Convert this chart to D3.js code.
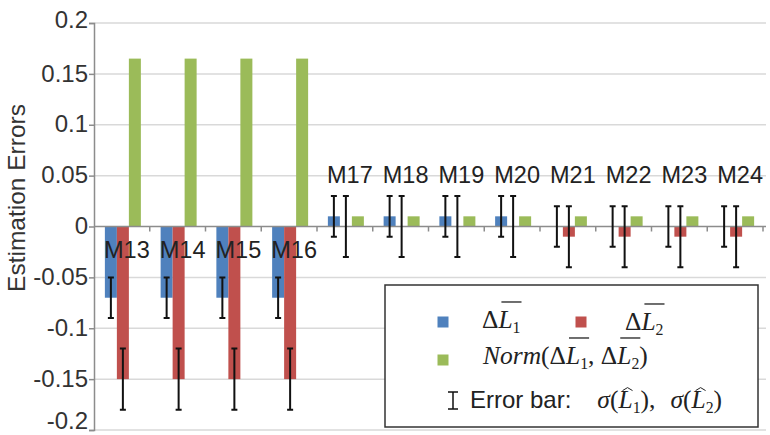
<!DOCTYPE html>
<html>
<head>
<meta charset="utf-8">
<script src="https://cdn.jsdelivr.net/npm/d3@7"></script>
<style>
  body { margin: 0; background: #fff; }
  svg { display: block; }
</style>
</head>
<body>
<div id="chart"></div>
<script>
var categories = ["M13", "M14", "M15", "M16", "M17", "M18", "M19", "M20", "M21", "M22", "M23", "M24"];
var deltaL1 = [-0.07, -0.07, -0.07, -0.07, 0.01, 0.01, 0.01, 0.01, 0, 0, 0, 0];
var deltaL2 = [-0.15, -0.15, -0.15, -0.15, 0, 0, 0, 0, -0.01, -0.01, -0.01, -0.01];
var normL = [0.165, 0.165, 0.165, 0.165, 0.01, 0.01, 0.01, 0.01, 0.01, 0.01, 0.01, 0.01];
var sigmaL1 = [0.02, 0.02, 0.02, 0.02, 0.02, 0.02, 0.02, 0.02, 0.02, 0.02, 0.02, 0.02];
var sigmaL2 = [0.03, 0.03, 0.03, 0.03, 0.03, 0.03, 0.03, 0.03, 0.03, 0.03, 0.03, 0.03];
var yTicks = [-0.2, -0.15, -0.1, -0.05, 0, 0.05, 0.1, 0.15, 0.2];
var seriesNames = ["dL1", "dL2", "norm"];

var COLORS = { dL1: "#4F81BD", dL2: "#C0504D", norm: "#9BBB59" };
var SANS = "'Liberation Sans', Arial, sans-serif";
var SERIF = "'Liberation Serif', 'Times New Roman', serif";

var width = 770,
    height = 435,
    plot = { left: 94, right: 763, top: 23, bottom: 430 };

var svg = d3.select("#chart")
    .append("svg")
        .attr("width", width)
        .attr("height", height);

/* Scales */
var x = d3.scaleBand()
    .domain(categories)
    .range([plot.left, plot.right]);
var groupW = 36;
var x1 = d3.scaleBand()
    .domain(seriesNames)
    .range([(x.bandwidth() - groupW) / 2 + 1, (x.bandwidth() + groupW) / 2 + 1]);
var y = d3.scaleLinear()
    .domain([-0.2, 0.2])
    .range([plot.bottom, plot.top]);

/* Grid lines */
svg.append("g")
    .selectAll("line")
    .data(yTicks.filter(function(d){ return d !== 0; }))
    .enter()
    .append("line")
        .attr("x1", plot.left)
        .attr("x2", 766)
        .attr("y1", function(d){ return y(d); })
        .attr("y2", function(d){ return y(d); })
        .attr("stroke", "#d9d9d9")
        .attr("stroke-width", 1.5);

/* Y axis */
var yAxis = d3.axisLeft(y)
    .tickValues(yTicks)
    .tickSize(5)
    .tickPadding(1)
    .tickFormat(function(d){ return d === 0 ? "0" : String(+d.toFixed(2)); });
var yAxisG = svg.append("g")
    .attr("transform", "translate(" + plot.left + ",0)")
    .call(yAxis);
yAxisG.select(".domain").attr("stroke", "#8c8c8c").attr("stroke-width", 1.5);
yAxisG.selectAll(".tick line").attr("stroke", "#8c8c8c").attr("stroke-width", 1.5);
yAxisG.selectAll(".tick text")
    .attr("font-family", SANS)
    .attr("font-size", 24)
    .attr("fill", "#333")
    // last label sits on the bottom edge, keep it inside the frame
    .attr("dy", function(d){ return d === -0.2 ? "-0.05em" : (d === 0.2 ? "0.2em" : "0.3em"); });

svg.append("text")
    .attr("transform", "translate(25," + 198 + ") rotate(-90)")
    .attr("text-anchor", "middle")
    .attr("font-family", SANS)
    .attr("font-size", 24.5)
    .attr("fill", "#333")
    .text("Estimation Errors");

/* Bars */
var rows = categories.map(function(c, i){
    return { cat: c, dL1: deltaL1[i], dL2: deltaL2[i], norm: normL[i], s1: sigmaL1[i], s2: sigmaL2[i] };
});

var groups = svg.append("g")
    .selectAll(".group")
    .data(rows)
    .enter()
    .append("g")
        .attr("class", "group")
        .attr("transform", function(d){ return "translate(" + x(d.cat) + ",0)"; });

groups.selectAll("rect")
    .data(function(d){ return seriesNames.map(function(k){ return { key: k, value: d[k] }; }); })
    .enter()
    .append("rect")
        .attr("x", function(d){ return x1(d.key); })
        .attr("width", x1.bandwidth())
        .attr("y", function(d){ return Math.min(y(d.value), y(0)); })
        .attr("height", function(d){ return Math.abs(y(d.value) - y(0)); })
        .attr("fill", function(d){ return COLORS[d.key]; });

/* Zero line with category ticks */
svg.append("line")
    .attr("x1", plot.left).attr("x2", 766)
    .attr("y1", y(0)).attr("y2", y(0))
    .attr("stroke", "#8c8c8c")
    .attr("stroke-width", 1.5);
svg.append("g")
    .selectAll("line")
    .data(categories)
    .enter()
    .append("line")
        .attr("x1", function(d){ return x(d) + x.bandwidth(); })
        .attr("x2", function(d){ return x(d) + x.bandwidth(); })
        .attr("y1", y(0))
        .attr("y2", y(0) + 5)
        .attr("stroke", "#8c8c8c")
        .attr("stroke-width", 1.5);

/* Error bars */
var errData = [];
rows.forEach(function(d){
    errData.push({ cat: d.cat, key: "dL1", v: d.dL1, s: d.s1 });
    errData.push({ cat: d.cat, key: "dL2", v: d.dL2, s: d.s2 });
});
var capW = 3;
svg.append("g")
    .attr("stroke", "#111")
    .attr("stroke-width", 2)
    .attr("fill", "none")
    .selectAll("path")
    .data(errData)
    .enter()
    .append("path")
        .attr("d", function(d){
            var cx = x(d.cat) + x1(d.key) + x1.bandwidth() / 2,
                t = y(d.v + d.s),
                b = y(d.v - d.s);
            return "M" + cx + "," + t + "V" + b +
                "M" + (cx - capW) + "," + t + "H" + (cx + capW) +
                "M" + (cx - capW) + "," + b + "H" + (cx + capW);
        });

/* Category labels */
svg.append("g")
    .selectAll("text")
    .data(rows)
    .enter()
    .append("text")
        .attr("x", function(d){ return x(d.cat) + x.bandwidth() / 2 + 5; })
        .attr("y", function(d){ return d.dL1 < 0 ? y(0) + 31 : y(0.05) + 7; })
        .attr("text-anchor", "middle")
        .attr("font-family", SANS)
        .attr("font-size", 23.5)
        .attr("fill", "#222")
        .text(function(d){ return d.cat; });

/* Legend */
var legend = svg.append("g");
legend.append("rect")
    .attr("x", 385).attr("y", 285)
    .attr("width", 373).attr("height", 142)
    .attr("fill", "#fff")
    .attr("stroke", "#333")
    .attr("stroke-width", 1.5);

// lays out text pieces left to right; overline groups (ol) and hats drawn from measured widths
function mathText(g, x0, base, pieces, size){
    var cx = x0;
    pieces.forEach(function(p){
        var fs = p.sub ? size * 0.62 : (p.size || size);
        var t = g.append("text")
            .attr("x", cx)
            .attr("y", base + (p.sub ? size * 0.2 : 0))
            .attr("font-family", p.sans ? SANS : SERIF)
            .attr("font-size", fs)
            .attr("font-style", p.it ? "italic" : "normal")
            .attr("fill", "#222")
            .style("white-space", "pre")
            .text(p.t);
        var w = t.node().getComputedTextLength();
        p.bx0 = cx; p.bx1 = cx + w;
        if (p.hat) {
            var hx = cx + w / 2 + 2, hy = base - size * 0.8;
            g.append("path")
                .attr("d", "M" + (hx - 5) + "," + (hy + 3) + "L" + hx + "," + hy + "L" + (hx + 5) + "," + (hy + 3))
                .attr("fill", "none").attr("stroke", "#222").attr("stroke-width", 1);
        }
        cx += w + (p.gap || 0);
    });
    var ids = d3.group(pieces.filter(function(p){ return p.ol; }), function(p){ return p.ol; });
    ids.forEach(function(list){
        g.append("line")
            .attr("x1", d3.min(list, function(p){ return p.bx0; }) + 3)
            .attr("x2", d3.max(list, function(p){ return p.bx1; }) + 1)
            .attr("y1", base - size * 1.02)
            .attr("y2", base - size * 1.02)
            .attr("stroke", "#222")
            .attr("stroke-width", 1.3);
    });
}

var swatch = 11;
[["dL1", 443, 322], ["dL2", 581, 322], ["norm", 443, 360]].forEach(function(s){
    legend.append("rect")
        .attr("x", s[1] - swatch / 2).attr("y", s[2] - swatch / 2)
        .attr("width", swatch).attr("height", swatch)
        .attr("fill", COLORS[s[0]]);
});

mathText(legend, 482, 328, [
    { t: "Δ" }, { t: "L", it: true, ol: "a" }, { t: "1", sub: true, ol: "a" }
], 25.5);
mathText(legend, 625, 330, [
    { t: "Δ" }, { t: "L", it: true, ol: "a" }, { t: "2", sub: true, ol: "a" }
], 25.5);
mathText(legend, 483, 364, [
    { t: "Norm", it: true }, { t: "(Δ" }, { t: "L", it: true, ol: "a" }, { t: "1", sub: true, ol: "a" },
    { t: ",\u00a0Δ" }, { t: "L", it: true, ol: "b" }, { t: "2", sub: true, ol: "b" }, { t: ")" }
], 25.5);

/* error bar symbol */
legend.append("path")
    .attr("d", "M453,392V409M448,392H458M448,409H458")
    .attr("fill", "none")
    .attr("stroke", "#111")
    .attr("stroke-width", 1.5);

mathText(legend, 470, 408, [
    { t: "Error bar:", sans: true, size: 24, gap: 26 },
    { t: "σ", it: true }, { t: "(" }, { t: "L", it: true, hat: true }, { t: "1", sub: true }, { t: "),", gap: 15 },
    { t: "σ", it: true }, { t: "(" }, { t: "L", it: true, hat: true }, { t: "2", sub: true }, { t: ")" }
], 25.5);
</script>
</body>
</html>
